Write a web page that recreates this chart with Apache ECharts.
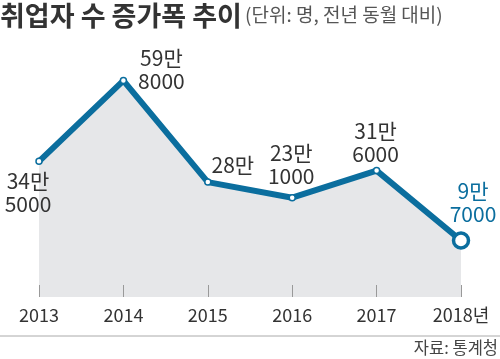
<!DOCTYPE html>
<html><head><meta charset="utf-8">
<script src="https://cdn.jsdelivr.net/npm/echarts@6/dist/echarts.min.js"></script>
<style>html,body{margin:0;padding:0;background:#fff}#c{width:500px;height:359px}</style>
</head><body><div id="c"></div>
<script>
const categories = ['2013', '2014', '2015', '2016', '2017', '2018'];
const tickLabels = ['2013', '2014', '2015', '2016', '2017', '2018년'];
const values = [345000, 598000, 280000, 231000, 316000, 97000];
const valueLabels = ['34만\n5000', '59만\n8000', '28만', '23만\n1000', '31만\n6000', '9만\n7000'];

const BLUE = '#0b6e9e';
const FONT = '"Noto Sans CJK KR", "Noto Sans", sans-serif';
const labelOffsets = [[-11, 31], [38, -11], [25, -17], [-1, -33], [-1, -28], [12, -38]];

const data = values.map((v, i) => {
  const last = i === values.length - 1;
  return {
    value: v,
    symbolSize: last ? 15 : 6,
    itemStyle: { color: '#fff', borderColor: BLUE, borderWidth: last ? 3.5 : 1.5 },
    label: {
      show: true,
      formatter: valueLabels[i],
      position: 'inside',
      offset: labelOffsets[i],
      align: 'center',
      verticalAlign: 'middle',
      fontSize: 21,
      lineHeight: 23,
      fontFamily: FONT,
      color: last ? BLUE : '#333'
    }
  };
});

const chart = echarts.init(document.getElementById('c'), null, { renderer: 'canvas' });
chart.setOption({
  animation: false,
  grid: { left: 39, right: 39, top: 48, bottom: 62 },
  xAxis: {
    type: 'category',
    data: categories,
    boundaryGap: false,
    z: 10,
    axisLine: { show: false, onZero: false },
    axisTick: { show: true, inside: true, length: 12, lineStyle: { color: '#999', width: 1 } },
    axisLabel: {
      margin: 9, fontSize: 18, color: '#333', fontFamily: FONT,
      formatter: (v, i) => tickLabels[i]
    },
    splitLine: { show: false }
  },
  yAxis: { type: 'value', min: -80000, max: 700000, show: false, splitLine: { show: false } },
  series: [{
    type: 'line',
    data: data,
    symbol: 'circle',
    showAllSymbol: true,
    lineStyle: { color: BLUE, width: 6 },
    areaStyle: { color: '#e6e7e9', opacity: 1, origin: 'start' },
    z: 3
  }],
  graphic: [
    { type: 'text', left: 0, top: 2, style: { text: '취업자 수 증가폭 추이', fontSize: 27, fontWeight: 'bold', fontFamily: FONT, fill: '#333' } },
    { type: 'text', left: 245, top: 5, style: { text: '(단위: 명, 전년 동월 대비)', fontSize: 19, fontFamily: FONT, fill: '#555' } },
    { type: 'line', shape: { x1: 0, y1: 336, x2: 500, y2: 336 }, style: { stroke: '#aaa', lineWidth: 1 } },
    { type: 'text', right: 2, top: 339, style: { text: '자료: 통계청', fontSize: 16.5, fontFamily: FONT, fill: '#444' } }
  ]
});
</script></body></html>
